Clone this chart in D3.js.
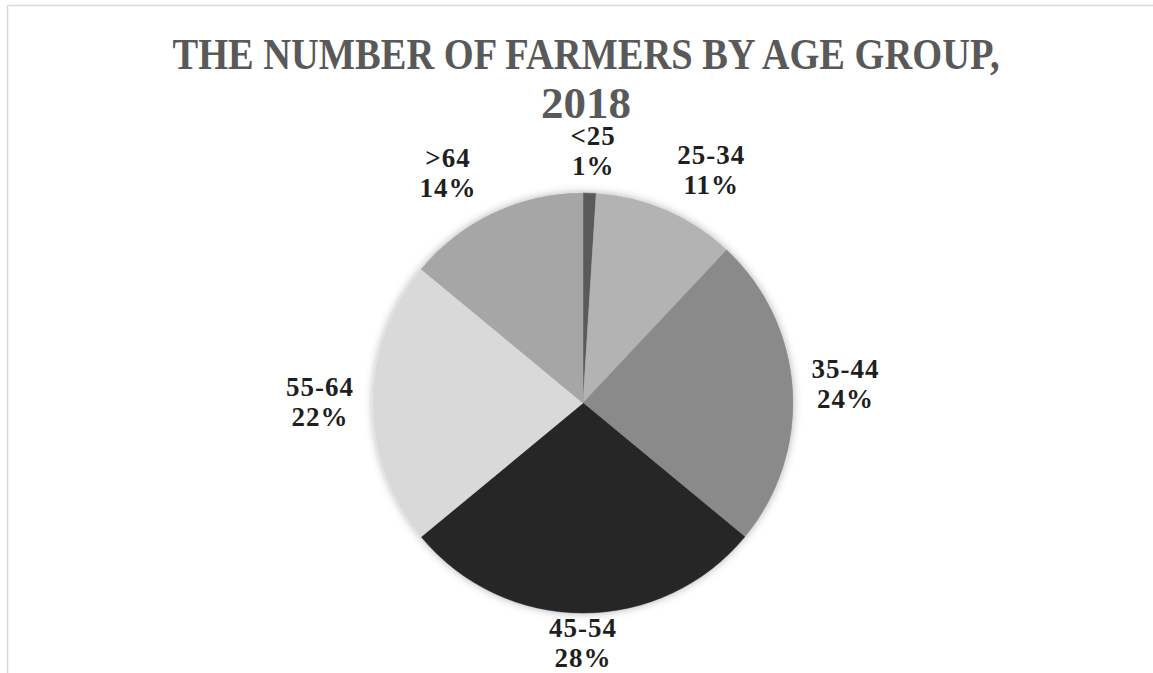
<!DOCTYPE html>
<html>
<head>
<meta charset="utf-8">
<script src="https://cdn.jsdelivr.net/npm/d3@7/dist/d3.min.js"></script>
<style>
  html, body { margin: 0; padding: 0; background: #fff; }
  svg { display: block; }
</style>
</head>
<body>
<script>
var categories = ["<25", "25-34", "35-44", "45-54", "55-64", ">64"];
var shares = [1, 11, 24, 28, 22, 14];
var titleLines = ["THE NUMBER OF FARMERS BY AGE GROUP,", "2018"];

var w = 1153;
var h = 673;
var cx = 583;
var cy = 403;
var radius = 210;

var color = d3.scaleOrdinal()
              .domain(categories)
              .range(["#5a5a5a", "#b3b3b3", "#8a8a8a", "#252525", "#d9d9d9", "#a6a6a6"]);

var svg = d3.select("body")
            .append("svg")
            .attr("width", w)
            .attr("height", h);

// soft shadow like the office chart
var defs = svg.append("defs");
var filter = defs.append("filter")
                 .attr("id", "shadow")
                 .attr("x", "-20%").attr("y", "-20%")
                 .attr("width", "140%").attr("height", "140%");
filter.append("feDropShadow")
      .attr("dx", 0).attr("dy", 0)
      .attr("stdDeviation", 4)
      .attr("flood-color", "#000")
      .attr("flood-opacity", 0.3);

// chart frame (cut off at right and bottom)
svg.append("rect")
   .attr("x", 7.5)
   .attr("y", 5.5)
   .attr("width", 1300)
   .attr("height", 800)
   .attr("fill", "none")
   .attr("stroke", "#d9d9d9")
   .attr("stroke-width", 1.5);

svg.append("g")
   .selectAll("text")
   .data(titleLines)
   .enter()
   .append("text")
   .text(function(d){ return d; })
   .attr("x", 586)
   .attr("y", function(d, i){ return 69 + i * 49; })
   .attr("text-anchor", "middle")
   .attr("font-family", "'Liberation Serif', serif")
   .attr("font-weight", "bold")
   .attr("font-size", "45px")
   .attr("fill", "#595959")
   .each(function(d, i){
     if (i === 0) {
       d3.select(this).attr("textLength", 827).attr("lengthAdjust", "spacingAndGlyphs");
     }
   });

var pie = d3.pie().sort(null).value(function(d){ return d; });
var arcs = pie(shares);

var arc = d3.arc().innerRadius(0).outerRadius(radius);

var g = svg.append("g")
           .attr("transform", "translate(" + cx + "," + cy + ")");

g.append("g")
 .attr("filter", "url(#shadow)")
 .selectAll("path")
 .data(arcs)
 .enter()
 .append("path")
 .attr("d", arc)
 .attr("fill", function(d, i){ return color(categories[i]); })
 .attr("stroke", function(d, i){ return color(categories[i]); })
 .attr("stroke-width", 0.5);

// outside-end labels
var gap = 13;
var hw = 40;
var hh = 23;
function clamp(v){ return Math.max(-1, Math.min(1, v)); }

var labels = g.append("g")
              .selectAll("g")
              .data(arcs)
              .enter()
              .append("g")
              .attr("transform", function(d){
                var a = (d.startAngle + d.endAngle) / 2;
                var s = Math.sin(a), c = Math.cos(a);
                var x = (radius + gap) * s + hw * clamp(s * 2.5);
                var y = -(radius + gap) * c - hh * clamp(c * 2.5) - 5 * Math.abs(c);
                return "translate(" + x + "," + y + ")";
              });

labels.selectAll("text")
      .data(function(d, i){ return [categories[i], d.data + "%"]; })
      .enter()
      .append("text")
      .text(function(d){ return d; })
      .attr("x", 0)
      .attr("y", function(d, i){ return -7 + i * 30; })
      .attr("text-anchor", "middle")
      .attr("font-family", "'Liberation Serif', serif")
      .attr("font-weight", "bold")
      .attr("font-size", "27px")
      .attr("letter-spacing", "1px")
      .attr("fill", "#1f1f1f");
</script>
</body>
</html>
